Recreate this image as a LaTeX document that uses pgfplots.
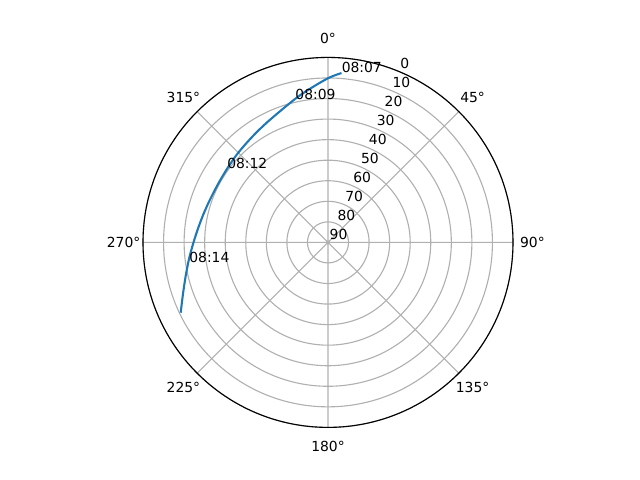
\documentclass[border=0pt]{standalone}
\usepackage{fontspec}
\setmainfont{DejaVu Sans}
\usepackage{pgfplots}
\usepackage{pgfplotstable}
\usepgfplotslibrary{polar}
\pgfplotsset{compat=1.18}
\definecolor{mplblue}{HTML}{1F77B4}
\definecolor{gridgray}{HTML}{B0B0B0}

% sky track, stored as angle = 90 - azimuth, radius = 90 - elevation
\pgfplotstableread{
a      r
85.44  82.67
89.65  80.12
95.90  75.76
102.96 71.59
116.39 65.66
125.79 63.21
135.19 61.71
142.93 60.85
151.50 60.56
160.27 61.09
167.15 62.12
173.67 63.54
180.00 65.43
186.81 68.10
193.65 71.34
200.25 75.34
205.51 79.40
}\track

\pgfplotstableread{
a      r     lab
85.44  82.67 08:07
103.0  71.0  08:09
144.0  60.74 08:12
188.3  68.3  08:14
}\times

\pgfplotstableread{
a    r  lab
67.5 0  90
67.5 10 80
67.5 20 70
67.5 30 60
67.5 40 50
67.5 50 40
67.5 60 30
67.5 70 20
67.5 80 10
67.5 90 0
}\rlabels

\begin{document}
\begin{tikzpicture}
\path[use as bounding box] (0,0) rectangle (460.8pt,345.6pt);
\begin{polaraxis}[
  at={(236.16pt,171.07pt)}, anchor=center,
  scale only axis, width=266.4pt, height=266.4pt,
  xmin=0, xmax=360, ymin=0, ymax=90,
  xtick={0,45,...,315},
  xticklabels={90°,45°,0°,315°,270°,225°,180°,135°},
  xticklabel style={anchor=center, shift={(\tick:14pt)}, inner sep=0pt},
  ytick={0,10,...,90}, yticklabels={},
  major tick length=0pt,
  grid=major,
  grid style={gridgray, line width=0.8pt},
  axis line style={black, line width=0.8pt},
  y axis line style={draw=none},
  clip=false,
]
\addplot[mplblue, line width=1.5pt, smooth] table[x=a, y=r] {\track};
\addplot[draw=none, mark=none, nodes near coords, point meta=explicit symbolic,
  every node near coord/.append style={anchor=south west, inner sep=0pt}]
  table[x=a, y=r, meta=lab] {\times};
\addplot[draw=none, mark=none, nodes near coords, point meta=explicit symbolic,
  every node near coord/.append style={anchor=south west, inner sep=0pt, xshift=1pt, yshift=2pt}]
  table[x=a, y=r, meta=lab] {\rlabels};
\end{polaraxis}
\end{tikzpicture}
\end{document}
